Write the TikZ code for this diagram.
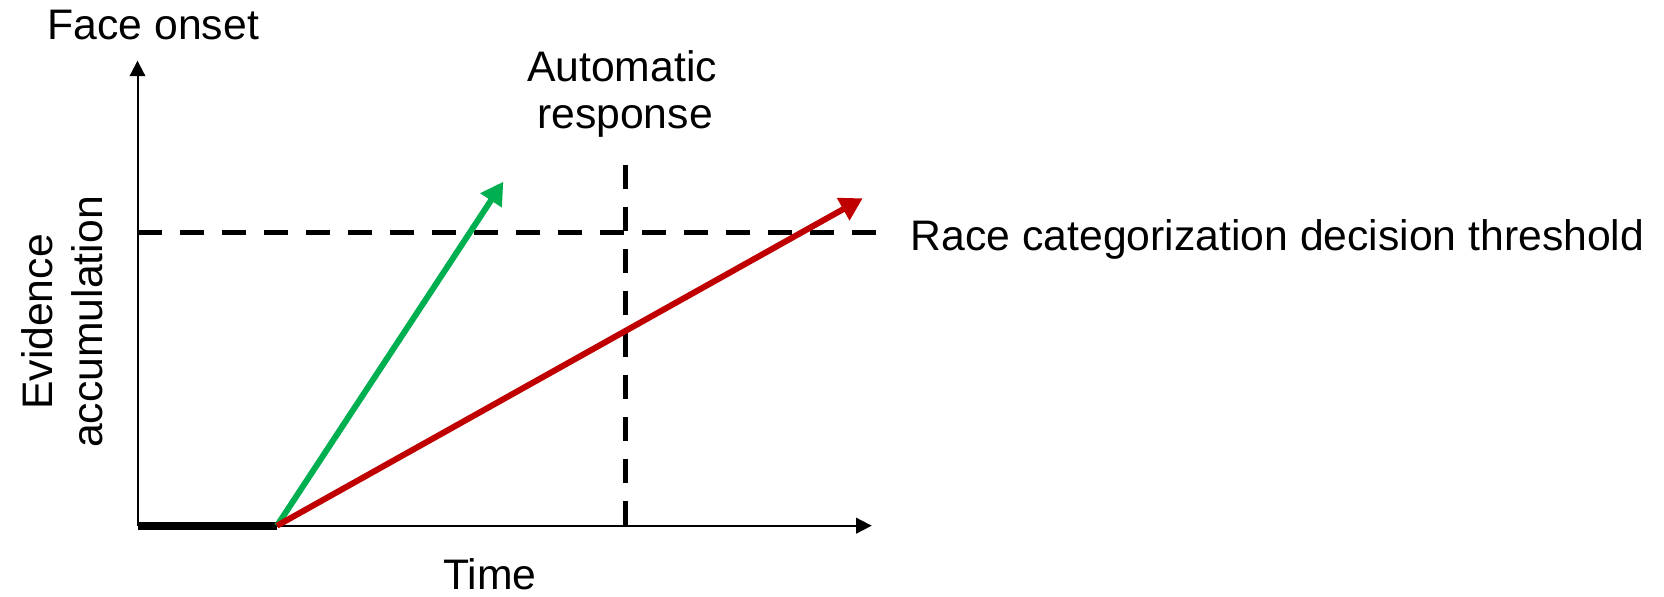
\documentclass[tikz,border=0pt]{standalone}
\usepackage{fontspec}
\setmainfont{Liberation Sans}
\usetikzlibrary{arrows.meta}
\definecolor{arrgreen}{RGB}{0,176,80}
\definecolor{arrred}{RGB}{192,0,0}
\begin{document}
\begin{tikzpicture}[x=0.5pt,y=-0.5pt,
  lbl/.style={inner sep=0pt, font=\fontsize{21.35}{25}\selectfont},
  axisln/.style={line width=1pt, -{Triangle[length=7.75pt,width=7.75pt]}},
  dashln/.style={line width=2.75pt, dash pattern=on 12pt off 9pt},
  thickarr/.style={line width=3pt, -{Triangle[length=11.2pt,width=12.2pt]}},
  baseln/.style={line width=4pt}]
\useasboundingbox (0,0) rectangle (1664,597);
% coordinates
\coordinate (orig) at (137.5,525.7);
\coordinate (ytip) at (137.5,60.7);
\coordinate (xtip) at (871.7,525.7);
\coordinate (onset) at (277,525.7);
\coordinate (gtip) at (503.3,181.7);
\coordinate (rtip) at (862.7,198.3);
\coordinate (hl) at (138,232.7);
\coordinate (hr) at (876,232.7);
\coordinate (vt) at (625.7,165);
\coordinate (vb) at (625.7,525.7);
% dashed lines
\draw[dashln] (hl) -- (hr);
\draw[dashln] (vt) -- (vb);
% axes
\draw[axisln] (orig) -- (ytip);
\draw[axisln] (orig) -- (xtip);
\draw[baseln] (orig) -- (onset);
% arrows
\draw[thickarr, arrgreen] (onset) -- (gtip);
\draw[thickarr, arrred] (onset) -- (rtip);
% labels
\node[lbl, anchor=base west] (face) at (47.3,39.5) {Face onset};
\node[lbl, anchor=base] (auto1) at (622,81.5) {Automatic};
\node[lbl, anchor=base] (auto2) at (625,128.5) {response};
\node[lbl, anchor=base west] (thr) at (910.5,250.5) {Race categorization decision threshold};
\node[lbl, anchor=base west] (time) at (443,590) {Time};
\node[lbl, anchor=base, rotate=90] (ev1) at (52,322) {Evidence};
\node[lbl, anchor=base, rotate=90] (ev2) at (102.5,322) {accumulation};
\end{tikzpicture}
\end{document}
